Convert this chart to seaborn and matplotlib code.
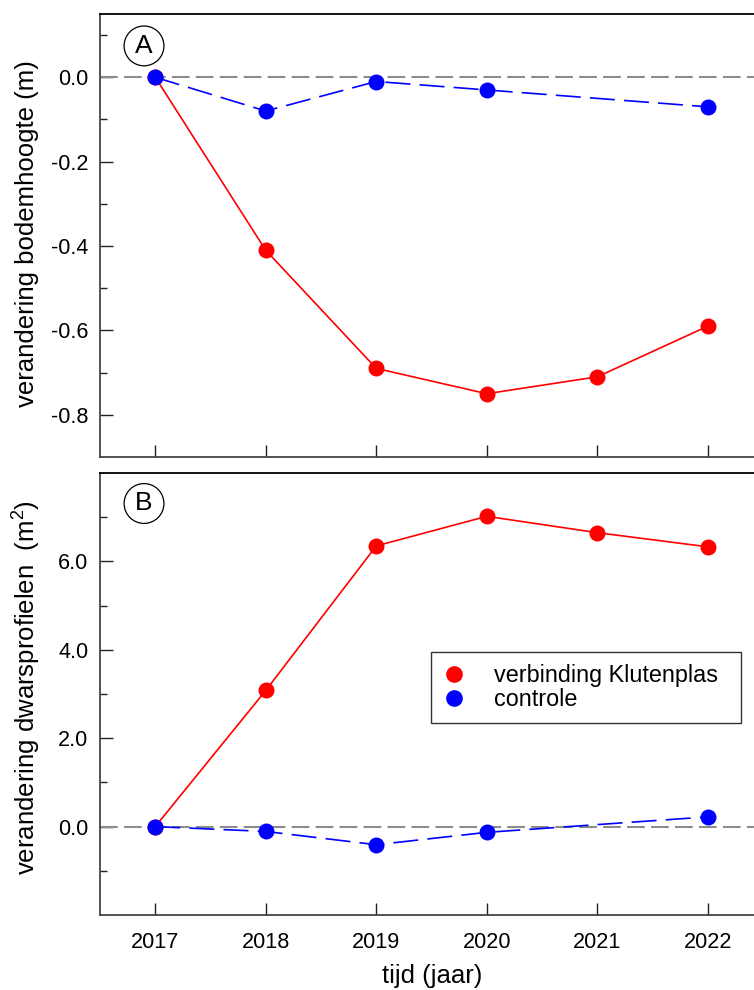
import matplotlib
matplotlib.use("Agg")
import matplotlib.pyplot as plt
from matplotlib.lines import Line2D
from matplotlib.ticker import FixedLocator, FuncFormatter
import pandas as pd
import seaborn as sns

# Data
years = [2017, 2018, 2019, 2020, 2021, 2022]
years_control = [2017, 2018, 2019, 2020, 2022]

height_klutenplas = [0.0, -0.41, -0.69, -0.75, -0.71, -0.59]
height_control = [0.0, -0.08, -0.01, -0.03, -0.07]

profile_klutenplas = [0.0, 3.08, 6.35, 7.02, 6.65, 6.33]
profile_control = [0.0, -0.11, -0.41, -0.13, 0.22]

series_names = ["verbinding Klutenplas", "controle"]
series_colors = ["red", "blue"]

sns.set_theme(style="ticks")
plt.rcParams["font.family"] = ["Liberation Sans", "DejaVu Sans"]
plt.rcParams["mathtext.fontset"] = "custom"
plt.rcParams["mathtext.rm"] = "Liberation Sans"
plt.rcParams["mathtext.it"] = "Liberation Sans:italic"
plt.rcParams["text.color"] = "black"


def frame(x_main, y_main, x_ctrl, y_ctrl):
    return pd.concat([
        pd.DataFrame({"jaar": x_main, "waarde": y_main, "reeks": series_names[0]}),
        pd.DataFrame({"jaar": x_ctrl, "waarde": y_ctrl, "reeks": series_names[1]}),
    ], ignore_index=True)


df_a = frame(years, height_klutenplas, years_control, height_control)
df_b = frame(years, profile_klutenplas, years_control, profile_control)

W, H = 754, 990
fig = plt.figure(figsize=(W / 100, H / 100), dpi=100)


def px_axes(left, top, right, bottom):
    return fig.add_axes([left / W, 1 - bottom / H, (right - left) / W, (bottom - top) / H])


ax_a = px_axes(100, 14, 763, 457)
ax_b = px_axes(100, 473, 763, 915)

palette = dict(zip(series_names, series_colors))
dashes = {series_names[0]: "", series_names[1]: (15, 5.5)}
markers = {series_names[0]: "o", series_names[1]: "o"}

for ax, df in [(ax_a, df_a), (ax_b, df_b)]:
    ax.axhline(0, color="#8c8c8c", lw=1.5, dashes=(8.5, 3), zorder=1)
    sns.lineplot(data=df, x="jaar", y="waarde", hue="reeks", style="reeks",
                 hue_order=series_names, style_order=series_names,
                 palette=palette, dashes=dashes, markers=markers,
                 markersize=11.5, markeredgewidth=0, linewidth=1.2,
                 legend=False, ax=ax, zorder=3)
    ax.set_xlim(2016.5, 2022.5)
    ax.set_xticks(years)
    ax.tick_params(axis="both", which="both", direction="in", colors="#222222",
                   labelsize=15.6, labelcolor="black")
    ax.tick_params(axis="both", which="major", length=9, width=1.0)
    ax.tick_params(axis="y", which="minor", length=5, width=1.0)
    ax.tick_params(axis="y", which="both", pad=8.5)
    ax.tick_params(axis="x", which="major", pad=12)
    ax.set_xlabel("")
    ax.set_ylabel("")
    for side in ["left", "bottom"]:
        ax.spines[side].set_color("#444444")
        ax.spines[side].set_linewidth(1.3)
    for side in ["top", "right"]:
        ax.spines[side].set_color("black")
        ax.spines[side].set_linewidth(1.3)

fmt = FuncFormatter(lambda v, p: f"{v:.1f}".replace("\u2212", "-"))

# Panel A
ax_a.set_ylim(-0.9, 0.15)
ax_a.yaxis.set_major_locator(FixedLocator([0.0, -0.2, -0.4, -0.6, -0.8]))
ax_a.yaxis.set_minor_locator(FixedLocator([0.1, -0.1, -0.3, -0.5, -0.7]))
ax_a.yaxis.set_major_formatter(fmt)
ax_a.tick_params(axis="x", labelbottom=False)

# Panel B
ax_b.set_ylim(-2.0, 8.0)
ax_b.yaxis.set_major_locator(FixedLocator([0.0, 2.0, 4.0, 6.0]))
ax_b.yaxis.set_minor_locator(FixedLocator([-1.0, 1.0, 3.0, 5.0, 7.0]))
ax_b.yaxis.set_major_formatter(fmt)

# Axis titles
fig.text(27 / W, 1 - 234 / H, "verandering bodemhoogte (m)", rotation=90,
         ha="center", va="center", fontsize=18.5)
fig.text(27 / W, 1 - 688 / H, "verandering dwarsprofielen  (m$^2$)", rotation=90,
         ha="center", va="center", fontsize=18.5)
fig.text(432 / W, 1 - 976 / H, "tijd (jaar)", ha="center", va="center", fontsize=18.5)

# Panel letters
for ax, letter, ypos in [(ax_a, "A", 0.928), (ax_b, "B", 0.931)]:
    ax.text(0.0664, ypos, letter, transform=ax.transAxes, ha="center", va="center",
            fontsize=19, zorder=5,
            bbox=dict(boxstyle="circle,pad=0.3", fc="white", ec="black", lw=0.9))

# Legend
handles = [Line2D([], [], color=c, marker="o", linestyle="none", markersize=12,
                  markeredgewidth=0) for c in series_colors]
leg = ax_b.legend(handles, series_names, loc="upper left", mode="expand",
                  bbox_to_anchor=(0.499, 0.428, 0.468, 0.167), fontsize=16.8,
                  frameon=True, fancybox=False, framealpha=1, edgecolor="#333333",
                  handletextpad=1.2, handlelength=1.0, borderpad=0.5,
                  labelspacing=0.05, borderaxespad=0)
leg.get_frame().set_linewidth(1.0)

fig.savefig("out.png", dpi=100)
